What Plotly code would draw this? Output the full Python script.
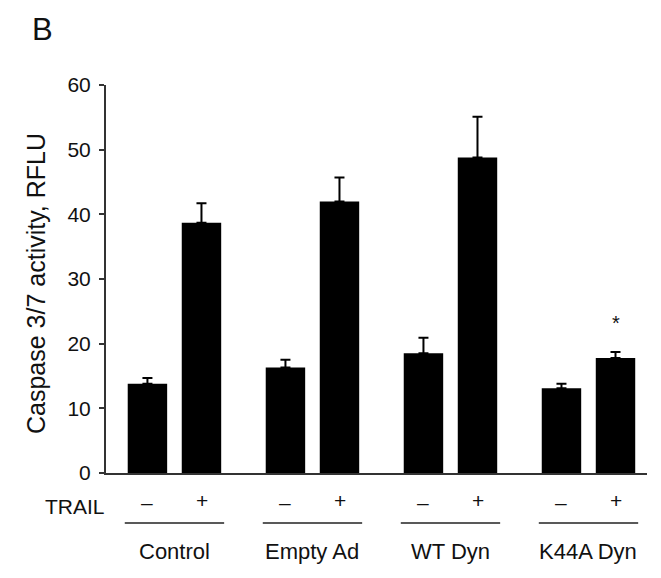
import plotly.graph_objects as go

groups = ["Control", "Empty Ad", "WT Dyn", "K44A Dyn"]
trail_minus = [13.8, 16.3, 18.5, 13.1]
trail_minus_err = [0.9, 1.2, 2.4, 0.7]
trail_plus = [38.7, 42.0, 48.8, 17.8]
trail_plus_err = [3.0, 3.7, 6.3, 0.9]
y_ticks = [0, 10, 20, 30, 40, 50, 60]
sig_marks = ["", "", "", "*"]
sig_y = [None, None, None, 23.2]

xs = list(range(len(groups)))
FONT = "Liberation Sans, Arial, Helvetica, sans-serif"
INK = "#111111"

W, H = 661, 578
ml, mr, mt, mb = 106, 14, 85, 105
pw, ph = W - ml - mr, H - mt - mb


def px2paper(px, py):
    return (px - ml) / pw, (H - mb - py) / ph


fig = go.Figure()
for vals, errs, nm in [(trail_minus, trail_minus_err, "TRAIL –"), (trail_plus, trail_plus_err, "TRAIL +")]:
    fig.add_trace(go.Bar(
        x=xs, y=vals, name=nm,
        marker=dict(color="black", line=dict(width=0)),
        error_y=dict(type="data", array=errs, arrayminus=[0] * len(errs), symmetric=False,
                     color="black", thickness=2, width=5),
    ))

off = 0.196
ann = []
shapes = []
_, y_sign = px2paper(0, 502)
_, y_line = px2paper(0, 523)
_, y_grp = px2paper(0, 551)
for i, g in enumerate(groups):
    ann.append(dict(x=i - off, y=y_sign, xref="x", yref="paper", text="–", showarrow=False,
                    font=dict(size=21, color=INK, family=FONT), yanchor="middle"))
    ann.append(dict(x=i + off, y=y_sign + 0.004, xref="x", yref="paper", text="+", showarrow=False,
                    font=dict(size=21, color=INK, family=FONT), yanchor="middle"))
    ann.append(dict(x=i, y=y_grp, xref="x", yref="paper", text=g, showarrow=False,
                    font=dict(size=22, color=INK, family=FONT), yanchor="middle"))
    shapes.append(dict(type="line", xref="x", yref="paper", x0=i - 0.36, x1=i + 0.36,
                       y0=y_line, y1=y_line, line=dict(color="#222222", width=1.5)))
    if sig_marks[i]:
        ann.append(dict(x=i + off, y=sig_y[i], xref="x", yref="y", text=sig_marks[i],
                        showarrow=False, font=dict(size=20, color=INK, family=FONT),
                        yanchor="middle"))

tx, ty = px2paper(107, 507)
ann.append(dict(x=tx, y=ty, xref="paper", yref="paper", text="TRAIL", showarrow=False,
                font=dict(size=21, color=INK, family=FONT), xanchor="right", yanchor="middle"))
bx, by = px2paper(30, 29)
ann.append(dict(x=bx, y=by, xref="paper", yref="paper", text="B", showarrow=False,
                font=dict(size=31, color=INK, family=FONT), xanchor="left", yanchor="middle"))
yx, yy = px2paper(36, 284)
ann.append(dict(x=yx, y=yy, xref="paper", yref="paper", text="Caspase 3/7 activity, RFLU",
                showarrow=False, textangle=-90,
                font=dict(size=25, color=INK, family=FONT), xanchor="center", yanchor="middle"))

fig.update_layout(
    width=W, height=H,
    margin=dict(l=ml, r=mr, t=mt, b=mb, autoexpand=False),
    paper_bgcolor="white", plot_bgcolor="white",
    barmode="group", bargap=0.217, bargroupgap=0.27,
    showlegend=False,
    font=dict(family=FONT, color=INK),
    annotations=ann, shapes=shapes,
    xaxis=dict(range=[-0.496, 3.424], showticklabels=False, ticks="", showgrid=False,
               zeroline=False, showline=True, linecolor="#333333", linewidth=2),
    yaxis=dict(range=[0, 60], tickvals=y_ticks, ticktext=[str(v) for v in y_ticks],
               ticks="outside", ticklen=5, tickwidth=1.5, tickcolor="#333333",
               ticklabelstandoff=4,
               showgrid=False, zeroline=False, showline=True, linecolor="#333333",
               linewidth=2, tickfont=dict(size=21, family=FONT, color=INK), automargin=False),
)

fig.write_html("out.html", config={"displayModeBar": False},
               post_script="document.body.style.margin='0';document.body.style.padding='0';")
